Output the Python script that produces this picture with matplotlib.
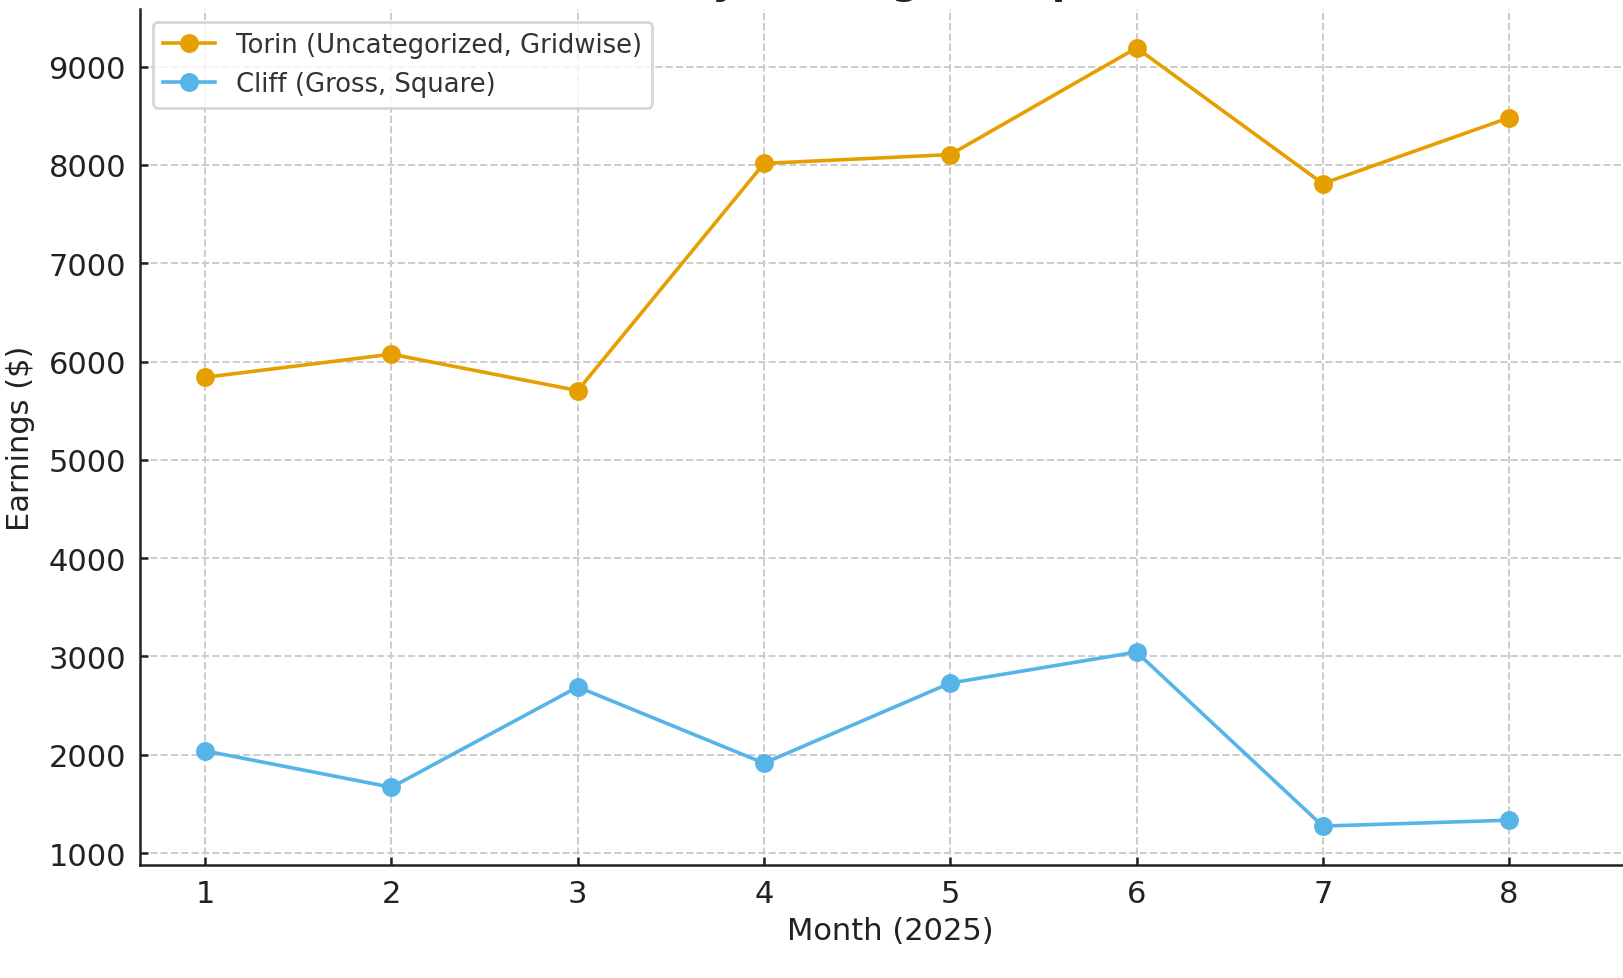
import matplotlib.pyplot as plt

months = [1, 2, 3, 4, 5, 6, 7, 8]
torin = [5840, 6075, 5705, 8015, 8105, 9190, 7810, 8480]
cliff = [2040, 1670, 2690, 1915, 2730, 3045, 1275, 1335]

fig = plt.figure(figsize=(8.12, 4.895), dpi=200)
ax = fig.add_axes([140 / 1624, 113 / 979, 1.0 - 140 / 1624 + 0.01, 856 / 979])

ax.plot(months, torin, color='#E69F00', lw=1.3, marker='o', ms=5.8,
        label='Torin (Uncategorized, Gridwise)')
ax.plot(months, cliff, color='#56B4E9', lw=1.3, marker='o', ms=5.8,
        label='Cliff (Gross, Square)')

# the visible area runs past the last month (right side is cropped)
ax.set_xlim(0.65, 0.65 + (1624 - 140) / 186.57 + 0.1)
ax.set_yticks([1000, 2000, 3000, 4000, 5000, 6000, 7000, 8000, 9000])
ax.margins(y=0.05)

ax.grid(True, linestyle='--', color='#cccccc', linewidth=0.7)
ax.set_axisbelow(True)
for s in ['top', 'right']:
    ax.spines[s].set_visible(False)
for s in ['left', 'bottom']:
    ax.spines[s].set_linewidth(0.9)
    ax.spines[s].set_color('#222222')
ax.tick_params(direction='in', length=2.8, width=0.9, labelsize=11,
               colors='#222222', pad=5)

ax.set_xlabel('Month (2025)', fontsize=11, color='#222222', labelpad=3)
ax.set_ylabel('Earnings ($)', fontsize=11, color='#222222', labelpad=5)

# title sits above the canvas, only its descenders show
fig.text(888 / 1624, 1.0 + 6 / 979, 'Monthly Earnings Comparison', ha='center',
         va='baseline', fontsize=14, fontweight='bold', color='#222222')

leg = ax.legend(loc='upper left', fontsize=9.3, frameon=True, fancybox=True,
                edgecolor='#cccccc', borderpad=0.4, handlelength=2.0)
for t in leg.get_texts():
    t.set_color('#333333')

fig.savefig('out.png', dpi=200)
